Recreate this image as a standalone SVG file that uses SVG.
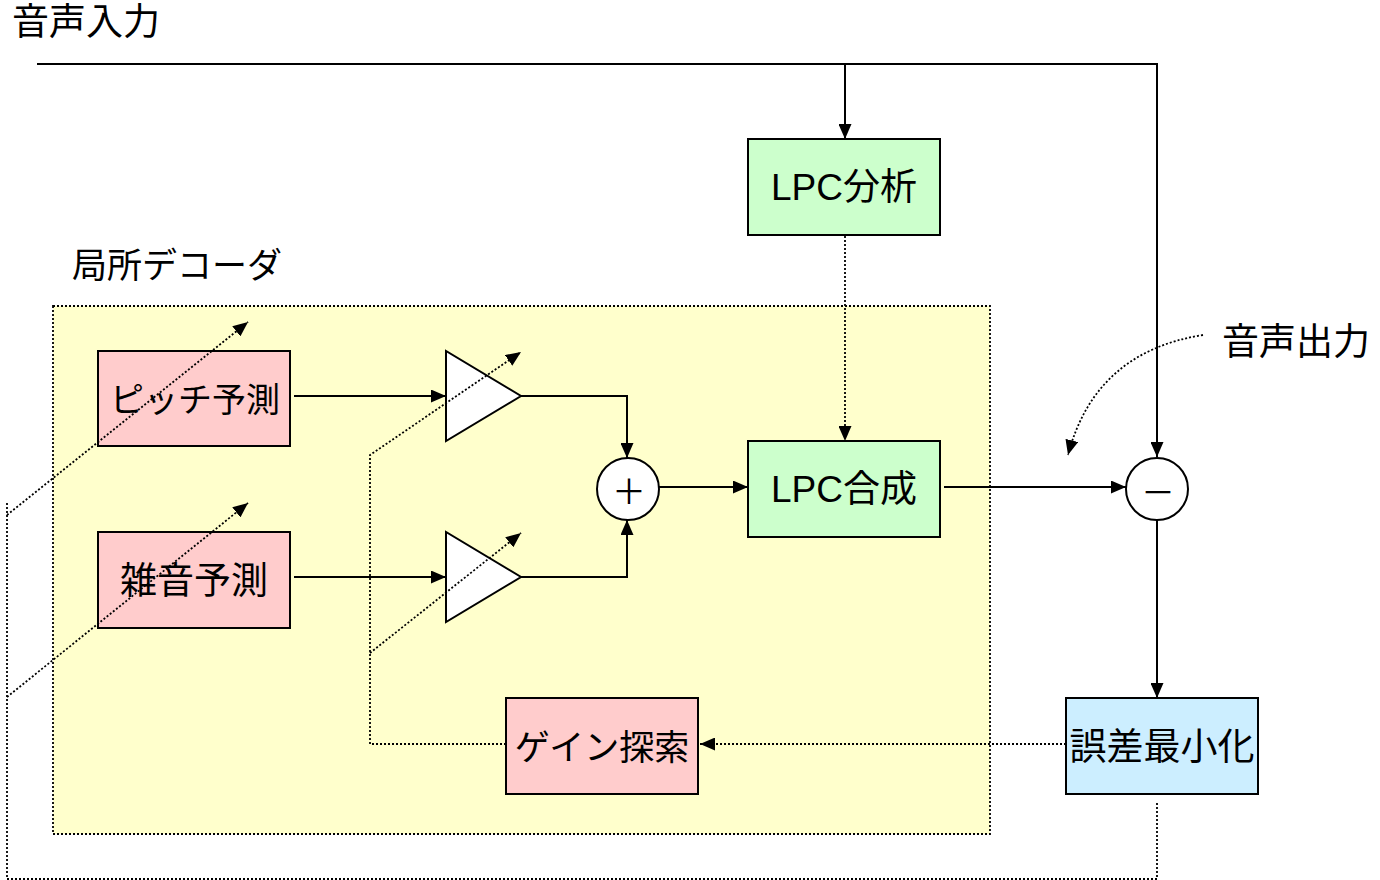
<svg xmlns="http://www.w3.org/2000/svg" width="1380" height="880" viewBox="0 0 1380 880">
<style>
text{font-family:"Liberation Sans","Noto Sans CJK JP",sans-serif;fill:#000}
.lbl{font-size:37px;text-anchor:middle}
.free{font-size:37px}
.op{font-family:"Noto Sans CJK JP",sans-serif;font-size:34px;text-anchor:middle}
.box{stroke:#000;stroke-width:2}
.green{fill:#ccffcc}
.pink{fill:#ffcccc}
.blue{fill:#cceeff}
.ln{fill:none;stroke:#000;stroke-width:2}
.dot{fill:none;stroke:#000;stroke-width:1.8;stroke-dasharray:2 2}
.shape{fill:#fff;stroke:#000;stroke-width:2}
</style>
<defs>
<marker id="ah" viewBox="0 0 15 13" refX="15" refY="6.5" markerWidth="15" markerHeight="13" markerUnits="userSpaceOnUse" orient="auto">
<path d="M0,0 L15,6.5 L0,13 z" fill="#000"/>
</marker>
</defs>
<rect id="decoder-area" x="53" y="306" width="937" height="528" fill="#ffffcc" stroke="#000" stroke-width="1.8" stroke-dasharray="2 2"/>
<text class="free" x="72" y="278" style="font-size:35px">局所デコーダ</text>
<text class="free" x="12" y="35">音声入力</text>
<text class="free" x="1222" y="355">音声出力</text>
<g id="lpc-analysis">
<rect class="box green" x="748" y="139" width="192" height="96"/>
<text class="lbl" x="844" y="200">LPC分析</text>
</g>
<g id="pitch-pred">
<rect class="box pink" x="98" y="351" width="192" height="95"/>
<text class="lbl" x="195" y="412" style="font-size:34px">ピッチ予測</text>
</g>
<g id="noise-pred">
<rect class="box pink" x="98" y="532" width="192" height="96"/>
<text class="lbl" x="194" y="594">雑音予測</text>
</g>
<g id="gain1">
<polygon class="shape" points="446,351 446,441 521,396"/>
</g>
<g id="gain2">
<polygon class="shape" points="446,532 446,622 521,577"/>
</g>
<g id="adder">
<circle class="shape" cx="628" cy="489" r="31"/>
<text class="op" x="629" y="504">＋</text>
</g>
<g id="lpc-synth">
<rect class="box green" x="748" y="441" width="192" height="96"/>
<text class="lbl" x="844" y="502">LPC合成</text>
</g>
<g id="subtract">
<circle class="shape" cx="1157" cy="489" r="31"/>
<text class="op" x="1158" y="505">－</text>
</g>
<g id="error-min">
<rect class="box blue" x="1066" y="698" width="192" height="96"/>
<text class="lbl" x="1162" y="760">誤差最小化</text>
</g>
<g id="gain-search">
<rect class="box pink" x="506" y="698" width="192" height="96"/>
<text class="lbl" x="602" y="760" style="font-size:35px">ゲイン探索</text>
</g>
<g id="connectors">
<path class="ln" d="M37,64 H1157 V457" marker-end="url(#ah)"/>
<path class="ln" d="M845,64 V139" marker-end="url(#ah)"/>
<path class="dot" d="M845,236 V441" marker-end="url(#ah)"/>
<path class="ln" d="M294,396 H446" marker-end="url(#ah)"/>
<path class="ln" d="M294,577 H446" marker-end="url(#ah)"/>
<path class="ln" d="M521,396 H627 V458" marker-end="url(#ah)"/>
<path class="ln" d="M521,577 H627 V520" marker-end="url(#ah)"/>
<path class="ln" d="M659,487 H748" marker-end="url(#ah)"/>
<path class="ln" d="M944,487 H1126" marker-end="url(#ah)"/>
<path class="ln" d="M1157,520 V698" marker-end="url(#ah)"/>
<path class="dot" d="M1066,744 H700" marker-end="url(#ah)"/>
<path class="dot" d="M506,744 H370 V455 L521,352" marker-end="url(#ah)"/>
<path class="dot" d="M370,653 L521,533" marker-end="url(#ah)"/>
<path class="dot" d="M1157,803 V879 H7 V502"/>
<path class="dot" d="M7,515 L248,322" marker-end="url(#ah)"/>
<path class="dot" d="M7,697 L248,503" marker-end="url(#ah)"/>
<path class="dot" d="M1203,335 Q1095,352 1068,455" marker-end="url(#ah)"/>
</g>
</svg>
